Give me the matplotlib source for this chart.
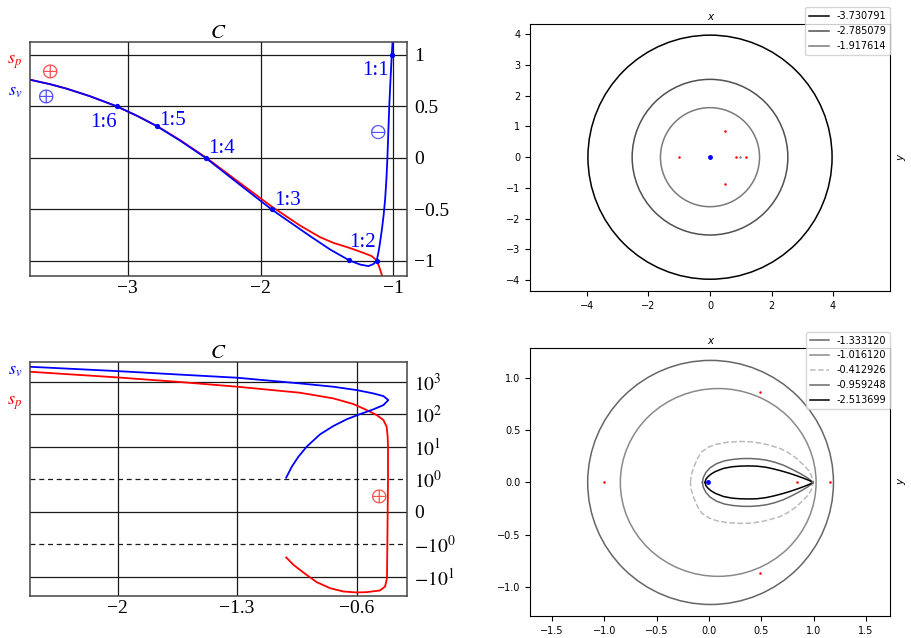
import matplotlib
matplotlib.use("Agg")
import matplotlib.pyplot as plt
from matplotlib.patches import Circle, Ellipse
from matplotlib.lines import Line2D

plt.rcParams["mathtext.fontset"] = "stix"
SERIF = "Liberation Serif"
BLUE = "#0000ff"
RED = "#ff0000"

# --- Data: s_p / s_v mot C (øverst venstre) ---
c_sp_top = [-3.735, -3.585, -3.459, -3.284, -3.083, -2.932, -2.782, -2.606, -2.413,
            -2.167, -1.916, -1.703, -1.552, -1.452, -1.326, -1.226, -1.163, -1.125,
            -1.100, -1.080]
sp_top = [0.759, 0.716, 0.672, 0.599, 0.501, 0.410, 0.311, 0.173, 0.006,
          -0.232, -0.472, -0.656, -0.769, -0.824, -0.875, -0.921, -0.953, -0.995,
          -1.082, -1.163]
c_sv_top = [-3.735, -3.585, -3.459, -3.284, -3.083, -2.932, -2.782, -2.606, -2.413,
            -2.167, -1.916, -1.627, -1.476, -1.331, -1.250, -1.188, -1.150, -1.125,
            -1.110, -1.098, -1.085, -1.073, -1.062, -1.052, -1.045, -1.038, -1.031,
            -1.022, -1.012, -1.006]
sv_top = [0.759, 0.716, 0.672, 0.599, 0.501, 0.410, 0.309, 0.168, 0.0,
          -0.249, -0.501, -0.759, -0.889, -0.995, -1.035, -1.050, -1.030, -0.995,
          -0.900, -0.800, -0.680, -0.550, -0.400, -0.200, 0.0, 0.250, 0.500,
          0.750, 1.000, 1.126]
res_c = [-3.083, -2.782, -2.413, -1.916, -1.331, -1.125, -1.012]
res_s = [0.5, 0.309, 0.0, -0.5, -0.995, -1.0, 1.0]
res_labels = ["1:6", "1:5", "1:4", "1:3", "", "1:2", "1:1"]
top_xticks = [-3, -2, -1]
top_xlabels = ["\u22123", "\u22122", "\u22121"]
top_yticks = [-1, -0.5, 0, 0.5, 1]
top_ylabels = ["\u22121", "\u22120.5", "0", "0.5", "1"]

# --- Data: s_p / s_v mot C (nederst venstre, symlog) ---
c_sv_bot = [-2.511, -2.000, -1.653, -1.298, -0.932, -0.737, -0.600, -0.503, -0.444,
            -0.415, -0.444, -0.503, -0.581, -0.659, -0.737, -0.815, -0.893, -0.941,
            -0.980, -1.013]
sv_bot = [2870, 2113, 1671, 1321, 885, 700, 552, 437, 361,
          273, 191, 141, 101, 70, 43.5, 24.1, 10.1, 5.0,
          2.46, 1.13]
c_sp_bot = [-2.511, -2.000, -1.653, -1.298, -0.932, -0.737, -0.620, -0.542, -0.483,
            -0.444, -0.425, -0.419, -0.417, -0.417, -0.419, -0.421, -0.423, -0.434,
            -0.464, -0.542, -0.600, -0.678, -0.756, -0.834, -0.912, -0.971, -1.013]
sp_bot = [2018, 1352, 995, 700, 458, 307, 206, 135, 94.4,
          66.4, 41.5, 20.5, 10.1, 0.98, 0.0, -1.16, -10.8, -19.5,
          -25.9, -29.1, -29.8, -27.8, -22.0, -14.4, -7.3, -4.2, -2.5]
bot_xticks = [-2, -1.3, -0.6]
bot_xlabels = ["\u22122", "\u22121.3", "\u22120.6"]
bot_yticks = [1000, 100, 10, 1, 0, -1, -10]
bot_ylabels = ["$10^{3}$", "$10^{2}$", "$10^{1}$", "$10^{0}$", "0",
               "$-10^{0}$", "$-10^{1}$"]

# --- Data: baner i roterende system ---
lagr_x = [0.8369, 1.1557, -1.0051, 0.4878, 0.4878]
lagr_y = [0.0, 0.0, 0.0, 0.866, -0.866]
primary = (-0.01215, 0.0)
secondary = (0.98785, 0.0)

ring_radius = [3.967, 2.530, 1.610]
ring_labels = ["-3.730791", "-2.785079", "-1.917614"]

oval_center = [0.015, 0.088]
oval_width = [2.349, 1.871]
oval_height = [2.334, 1.796]
oval_labels = ["-1.333120", "-1.016120"]

dash_x = [-0.178, -0.170, -0.150, -0.110, -0.070, 0.000, 0.073, 0.180, 0.296, 0.400,
          0.500, 0.600, 0.679, 0.760, 0.838, 0.900, 0.950, 0.980, 0.997]
dash_y = [0.0, 0.070, 0.134, 0.230, 0.293, 0.340, 0.366, 0.385, 0.392, 0.389,
          0.375, 0.350, 0.325, 0.285, 0.229, 0.170, 0.118, 0.065, 0.0]
loop_x = [-0.063, -0.055, -0.030, 0.010, 0.073, 0.150, 0.233, 0.310, 0.392, 0.470,
          0.551, 0.630, 0.711, 0.790, 0.870, 0.940, 0.997]
loop_y = [0.0, 0.045, 0.095, 0.140, 0.180, 0.207, 0.221, 0.228, 0.229, 0.224,
          0.213, 0.193, 0.165, 0.128, 0.086, 0.045, 0.0]
drop_x = [-0.038, -0.030, -0.010, 0.020, 0.060, 0.137, 0.220, 0.296, 0.380, 0.456,
          0.540, 0.615, 0.700, 0.774, 0.850, 0.902, 0.950, 0.997]
drop_y = [0.0, 0.030, 0.055, 0.080, 0.104, 0.134, 0.150, 0.156, 0.158, 0.156,
          0.146, 0.130, 0.108, 0.086, 0.060, 0.041, 0.022, 0.0]
curve_labels = ["-0.412926", "-0.959248", "-2.513699"]


# --- Funksjoner ---
def venstre_stil(ax, xt, xl, yt, yl, dashed=()):
    ax.set_xticks(xt, xl)
    ax.set_yticks(yt, yl)
    ax.yaxis.tick_right()
    ax.tick_params(which="both", length=0, labelsize=14, pad=5,
                   labelfontfamily=SERIF)
    ax.tick_params(axis="x", pad=3)
    for s in ax.spines.values():
        s.set_color("#444444")
        s.set_linewidth(1.1)
    for x in xt:
        ax.axvline(x, color="#1a1a1a", lw=0.9, zorder=0)
    for y in yt:
        ls = (0, (4, 3)) if y in dashed else "-"
        ax.axhline(y, color="#1a1a1a", lw=0.9, ls=ls, zorder=0)
    ax.set_title("$C$", fontsize=15, pad=3)


def hoyre_stil(ax):
    ax.tick_params(labelsize=7)
    ax.set_title("x", fontsize=7.5, style="italic", pad=3)
    ax.yaxis.set_label_position("right")
    ax.set_ylabel("y", fontsize=7.5, style="italic", labelpad=4)


def punkter(ax):
    ax.plot(lagr_x, lagr_y, "o", color="red", ms=1.8, mew=0)
    ax.plot(*secondary, "o", color="gray", ms=1.8, mew=0)
    ax.plot(*primary, "o", color=BLUE, ms=3.5, mew=0)


fig = plt.figure(figsize=(9.11, 6.38), dpi=100)

# --- Øverst venstre ---
ax1 = fig.add_axes([0.0329, 0.5674, 0.4142, 0.3668])
venstre_stil(ax1, top_xticks, top_xlabels, top_yticks, top_ylabels)
ax1.plot(c_sp_top, sp_top, color=RED, lw=1.3)
ax1.plot(c_sv_top, sv_top, color=BLUE, lw=1.3)
ax1.plot(res_c, res_s, "o", color=BLUE, ms=3.8, mew=0)
offsets = {"1:6": (-9.6, -9.6), "1:5": (11.3, 5.8), "1:4": (11.6, 8.4),
           "1:3": (11.3, 8.6), "1:2": (-10, 15), "1:1": (-12, -9.4)}
for c, s, lab in zip(res_c, res_s, res_labels):
    if lab:
        ax1.annotate(lab, (c, s), xytext=offsets[lab], textcoords="offset points",
                     ha="center", va="center_baseline", color=BLUE, fontsize=15,
                     family=SERIF)
ax1.text(-3.585, 0.846, r"$\oplus$", color="#ff5050", fontsize=14, ha="center", va="center")
ax1.text(-3.617, 0.607, r"$\oplus$", color="#5050ff", fontsize=14, ha="center", va="center")
ax1.text(-1.117, 0.258, r"$\ominus$", color="#5050ff", fontsize=14, ha="center", va="center")
ax1.text(-0.04, 0.915, "$s_p$", color=RED, fontsize=13, ha="center", va="center",
         transform=ax1.transAxes)
ax1.text(-0.04, 0.79, "$s_v$", color=BLUE, fontsize=13, ha="center", va="center",
         transform=ax1.transAxes)
ax1.set_xlim(-3.737, -0.895)
ax1.set_ylim(-1.146, 1.126)

# --- Nederst venstre ---
ax2 = fig.add_axes([0.0329, 0.0658, 0.4142, 0.3663])
ax2.set_yscale("symlog", linthresh=1, linscale=0.9)
venstre_stil(ax2, bot_xticks, bot_xlabels, bot_yticks, bot_ylabels, dashed=(1, -1))
ax2.plot(c_sp_bot, sp_bot, color=RED, lw=1.3)
ax2.plot(c_sv_bot, sv_bot, color=BLUE, lw=1.3)
ax2.text(-0.474, 0.5, r"$\oplus$", color="#ff5050", fontsize=14, ha="center", va="center")
ax2.text(-0.04, 0.966, "$s_v$", color=BLUE, fontsize=13, ha="center", va="center",
         transform=ax2.transAxes)
ax2.text(-0.04, 0.825, "$s_p$", color=RED, fontsize=13, ha="center", va="center",
         transform=ax2.transAxes)
ax2.set_xlim(-2.513, -0.304)
ax2.set_ylim(-38.3, 3936)

# --- Øverst høyre ---
ax3 = fig.add_axes([0.5821, 0.5434, 0.3952, 0.4195])
ring_colors = ["black", "#505050", "#7a7a7a"]
handles = []
for r, col, lab in zip(ring_radius, ring_colors, ring_labels):
    ax3.add_patch(Circle((0, 0), r, fill=False, ec=col, lw=1.1))
    handles.append(Line2D([], [], color=col, lw=1.1, label=lab))
punkter(ax3)
ax3.set_xlim(-5.84, 5.86)
ax3.set_ylim(-4.36, 4.34)
ax3.set_xticks([-4, -2, 0, 2, 4])
ax3.set_yticks([-4, -3, -2, -1, 0, 1, 2, 3, 4])
hoyre_stil(ax3)
ax3.legend(handles=handles, loc="upper right", bbox_to_anchor=(1.0, 1.061),
           borderaxespad=0, fontsize=7)

# --- Nederst høyre ---
ax4 = fig.add_axes([0.5821, 0.0345, 0.3952, 0.4201])
oval_colors = ["#666666", "#8a8a8a"]
handles = []
for cx, w, h, col, lab in zip(oval_center, oval_width, oval_height, oval_colors, oval_labels):
    ax4.add_patch(Ellipse((cx, 0), w, h, fill=False, ec=col, lw=1.1))
    handles.append(Line2D([], [], color=col, lw=1.1, label=lab))
styles = [("#bbbbbb", "--"), ("#6a6a6a", "-"), ("black", "-")]
for (xs, ys), (col, ls), lab in zip([(dash_x, dash_y), (loop_x, loop_y), (drop_x, drop_y)],
                                    styles, curve_labels):
    ax4.plot(xs + xs[::-1], ys + [-v for v in ys[::-1]], color=col, ls=ls, lw=1.1)
    handles.append(Line2D([], [], color=col, ls=ls, lw=1.1, label=lab))
punkter(ax4)
ax4.set_xlim(-1.708, 1.733)
ax4.set_ylim(-1.277, 1.286)
ax4.set_xticks([-1.5, -1.0, -0.5, 0.0, 0.5, 1.0, 1.5])
ax4.set_yticks([-1.0, -0.5, 0.0, 0.5, 1.0])
hoyre_stil(ax4)
ax4.legend(handles=handles, loc="upper right", bbox_to_anchor=(1.0, 1.061),
           borderaxespad=0, fontsize=7)

fig.savefig("out.png", dpi=100)
